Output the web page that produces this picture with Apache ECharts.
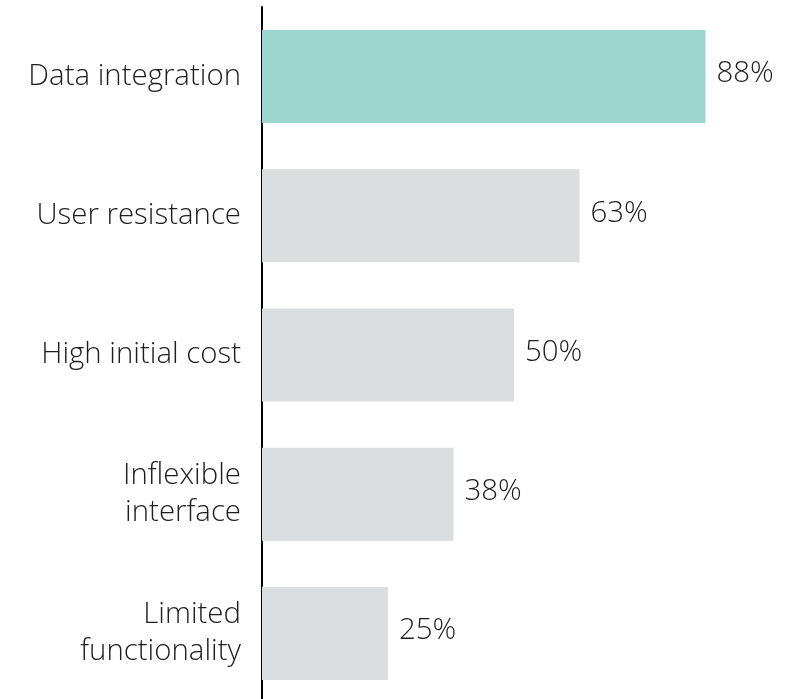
<!DOCTYPE html>
<html>
<head>
<meta charset="utf-8">
<script src="https://cdn.jsdelivr.net/npm/echarts@6/dist/echarts.min.js"></script>
<style>
  html, body { margin: 0; padding: 0; background: #fff; overflow: hidden; }
  #chart { width: 800px; height: 706px; }
</style>
</head>
<body>
<div id="chart"></div>
<script>
  // categories top to bottom
  var categories = [
    'Data integration',
    'User resistance',
    'High initial cost',
    'Inflexible\ninterface',
    'Limited\nfunctionality'
  ];
  var values = [88, 63, 50, 38, 25];
  var highlightIndex = 0;

  var teal = '#9dd5cf';
  var grey = '#dcdddf';

  var chart = echarts.init(document.getElementById('chart'));

  chart.setOption({
    animation: false,
    textStyle: { fontFamily: 'Open Sans', fontWeight: 300 },
    grid: { left: 262, top: 7, width: 504, height: 696 },
    xAxis: {
      type: 'value',
      min: 0,
      max: 100,
      show: false
    },
    yAxis: {
      type: 'category',
      inverse: true,
      data: categories,
      axisLine: { show: true, lineStyle: { color: '#000', width: 2 } },
      axisTick: { show: false },
      axisLabel: {
        margin: 21,
        color: '#1e1e1e',
        fontFamily: 'Open Sans',
        fontWeight: 300,
        fontSize: 29.4,
        lineHeight: 37,
        align: 'right',
        padding: [0, 0, 5, 0]
      }
    },
    series: [{
      type: 'bar',
      barWidth: 93,
      data: values.map(function (v, i) {
        return {
          value: v,
          itemStyle: { color: i === highlightIndex ? teal : grey }
        };
      }),
      label: {
        show: true,
        position: 'right',
        distance: 11,
        offset: [0, -2.5],
        color: '#1e1e1e',
        fontFamily: 'Open Sans',
        fontWeight: 300,
        fontSize: 29.4,
        formatter: '{c}%'
      }
    }]
  });
</script>
</body>
</html>
